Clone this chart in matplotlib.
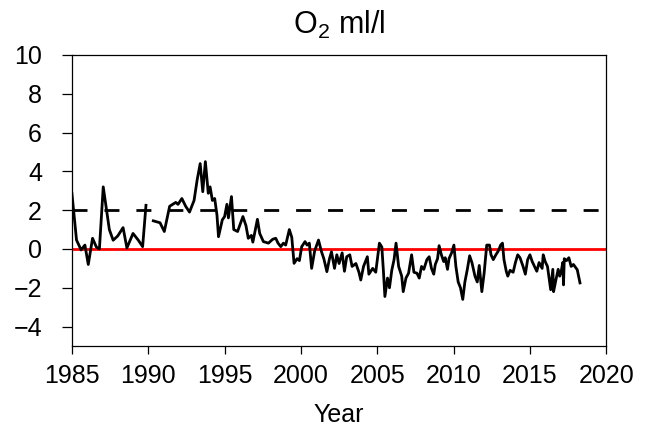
import numpy as np
import matplotlib
matplotlib.use("Agg")
import matplotlib.pyplot as plt

plt.rcParams['font.family'] = ['Liberation Sans', 'DejaVu Sans']
plt.rcParams['mathtext.fontset'] = 'custom'
plt.rcParams['mathtext.rm'] = 'Liberation Sans'
plt.rcParams['mathtext.it'] = 'Liberation Sans:italic'

# Segment before the 1990 gap
years_a = [1985.0, 1985.3, 1985.6, 1985.85, 1986.07, 1986.35, 1986.6, 1986.8, 1987.05,
           1987.45, 1987.7, 1988.0, 1988.35, 1988.6, 1989.0, 1989.35, 1989.63, 1989.85]
o2_a = [2.85, 0.46, -0.05, 0.2, -0.8, 0.55, 0.1, 0.0, 3.2,
        1.0, 0.45, 0.67, 1.1, 0.05, 0.8, 0.45, 0.12, 2.25]

# Segment after the gap
years_b = [1990.33, 1990.77, 1991.05, 1991.4, 1991.8, 1991.95, 1992.2, 1992.45, 1992.7,
           1993.0, 1993.2, 1993.4, 1993.57, 1993.74, 1993.93, 1994.05, 1994.2, 1994.35,
           1994.5, 1994.6, 1994.85, 1995.0, 1995.15, 1995.25, 1995.45, 1995.6, 1995.85,
           1996.2, 1996.4, 1996.55, 1996.75, 1996.85, 1997.15, 1997.3, 1997.54, 1997.87,
           1998.15, 1998.35, 1998.5, 1998.68, 1998.85, 1999.0, 1999.24, 1999.4, 1999.55,
           1999.75, 1999.9, 2000.05, 2000.27, 2000.4, 2000.55, 2000.7, 2000.9, 2001.15,
           2001.35, 2001.5, 2001.7, 2001.87, 2002.0, 2002.2, 2002.35, 2002.5, 2002.7,
           2002.85, 2003.0, 2003.2, 2003.35, 2003.6, 2003.8, 2003.92, 2004.1, 2004.35,
           2004.45, 2004.7, 2004.9, 2005.14, 2005.3, 2005.4, 2005.5, 2005.67, 2005.8,
           2005.95, 2006.1, 2006.23, 2006.4, 2006.6, 2006.7, 2006.88, 2007.05, 2007.25,
           2007.4, 2007.6, 2007.75, 2007.9, 2008.05, 2008.25, 2008.4, 2008.55, 2008.7,
           2008.8, 2008.95, 2009.05, 2009.2, 2009.35, 2009.45, 2009.6, 2009.7, 2009.87,
           2010.02, 2010.15, 2010.3, 2010.45, 2010.6, 2010.74, 2010.9, 2011.05, 2011.2,
           2011.4, 2011.55, 2011.68, 2011.85, 2012.0, 2012.17, 2012.35, 2012.45, 2012.6,
           2012.77, 2012.93, 2013.08, 2013.2, 2013.3, 2013.45, 2013.55, 2013.7, 2013.9,
           2014.05, 2014.2, 2014.35, 2014.55, 2014.7, 2014.85, 2015.0, 2015.15, 2015.3,
           2015.45, 2015.6, 2015.8, 2015.87, 2016.0, 2016.15, 2016.36, 2016.5, 2016.55,
           2016.7, 2016.85, 2016.95, 2017.05, 2017.15, 2017.2, 2017.25, 2017.4, 2017.55,
           2017.7, 2017.85, 2018.1, 2018.28]
o2_b = [1.45, 1.35, 0.9, 2.2, 2.4, 2.3, 2.6, 2.2, 1.9,
        2.5, 3.55, 4.4, 2.95, 4.5, 2.87, 3.2, 2.5, 2.6,
        1.75, 0.63, 1.5, 1.67, 2.3, 1.6, 2.7, 1.0, 0.9,
        1.67, 1.2, 0.55, 0.7, 0.35, 1.53, 0.8, 0.38, 0.3,
        0.5, 0.55, 0.3, 0.12, 0.3, 0.2, 1.0, 0.6, -0.74,
        -0.5, -0.6, 0.12, 0.38, 0.2, 0.3, -1.0, -0.1, 0.46,
        -0.15, -0.5, -1.17, -0.5, -0.15, -1.0, -0.3, -0.75, -0.2,
        -1.15, -0.4, -0.3, -0.9, -0.75, -1.2, -1.6, -0.9, -0.4,
        -1.3, -1.0, -1.2, 0.3, 0.1, -1.1, -2.45, -1.5, -2.0,
        -1.1, -0.55, 0.3, -0.9, -1.4, -2.2, -1.5, -1.25, -0.3,
        -1.2, -1.25, -1.5, -0.9, -1.05, -0.55, -0.4, -1.0, -1.3,
        -0.8, -0.5, 0.17, -0.3, -0.65, -0.45, -1.05, -0.5, -0.2,
        0.2, -0.9, -1.7, -2.0, -2.6, -1.7, -1.05, -0.35, -0.7,
        -1.4, -1.7, -0.85, -2.2, -1.25, 0.2, 0.2, -0.3, -0.55,
        -0.3, -0.1, 0.2, 0.3, -0.55, -1.15, -1.4, -1.1, -1.2,
        -0.7, -0.3, -0.45, -0.9, -1.3, -0.55, -0.3, -0.65, -0.9,
        -1.15, -0.7, -1.0, -0.3, -0.65, -0.9, -2.1, -1.05, -2.2,
        -1.6, -1.05, -1.4, -1.15, -0.7, -1.85, -0.5, -0.6, -0.45,
        -0.9, -0.8, -1.07, -1.75]

threshold = 2.0
reference = 0.0
xticks = [1985, 1990, 1995, 2000, 2005, 2010, 2015, 2020]
yticks = [-4, -2, 0, 2, 4, 6, 8, 10]

fig = plt.figure(figsize=(6.54, 4.29), dpi=100)
ax = fig.add_axes([0.110, 0.1935, 0.817, 0.6785])

ax.axhline(threshold, color='black', lw=2.0, dashes=(5.4, 6.1))
ax.axhline(reference, color='#ff0000', lw=2.0)
ax.plot(years_a, o2_a, color='black', lw=2.0)
ax.plot(years_b, o2_b, color='black', lw=2.0)

ax.set_xlim(1985, 2020)
ax.set_ylim(-5, 10)
ax.set_xticks(xticks)
ax.set_yticks(yticks)
ax.tick_params(axis='both', direction='out', labelsize=18, width=0.9)
ax.tick_params(axis='y', length=7.5, pad=14)
ax.tick_params(axis='x', length=6, pad=7)
for s in ax.spines.values():
    s.set_linewidth(0.9)

ax.set_title(r'O$_{\mathrm{2}}$ ml/l', fontsize=22, pad=15)
ax.set_xlabel('Year', fontsize=18, labelpad=11)

fig.savefig('out.png', dpi=100)
